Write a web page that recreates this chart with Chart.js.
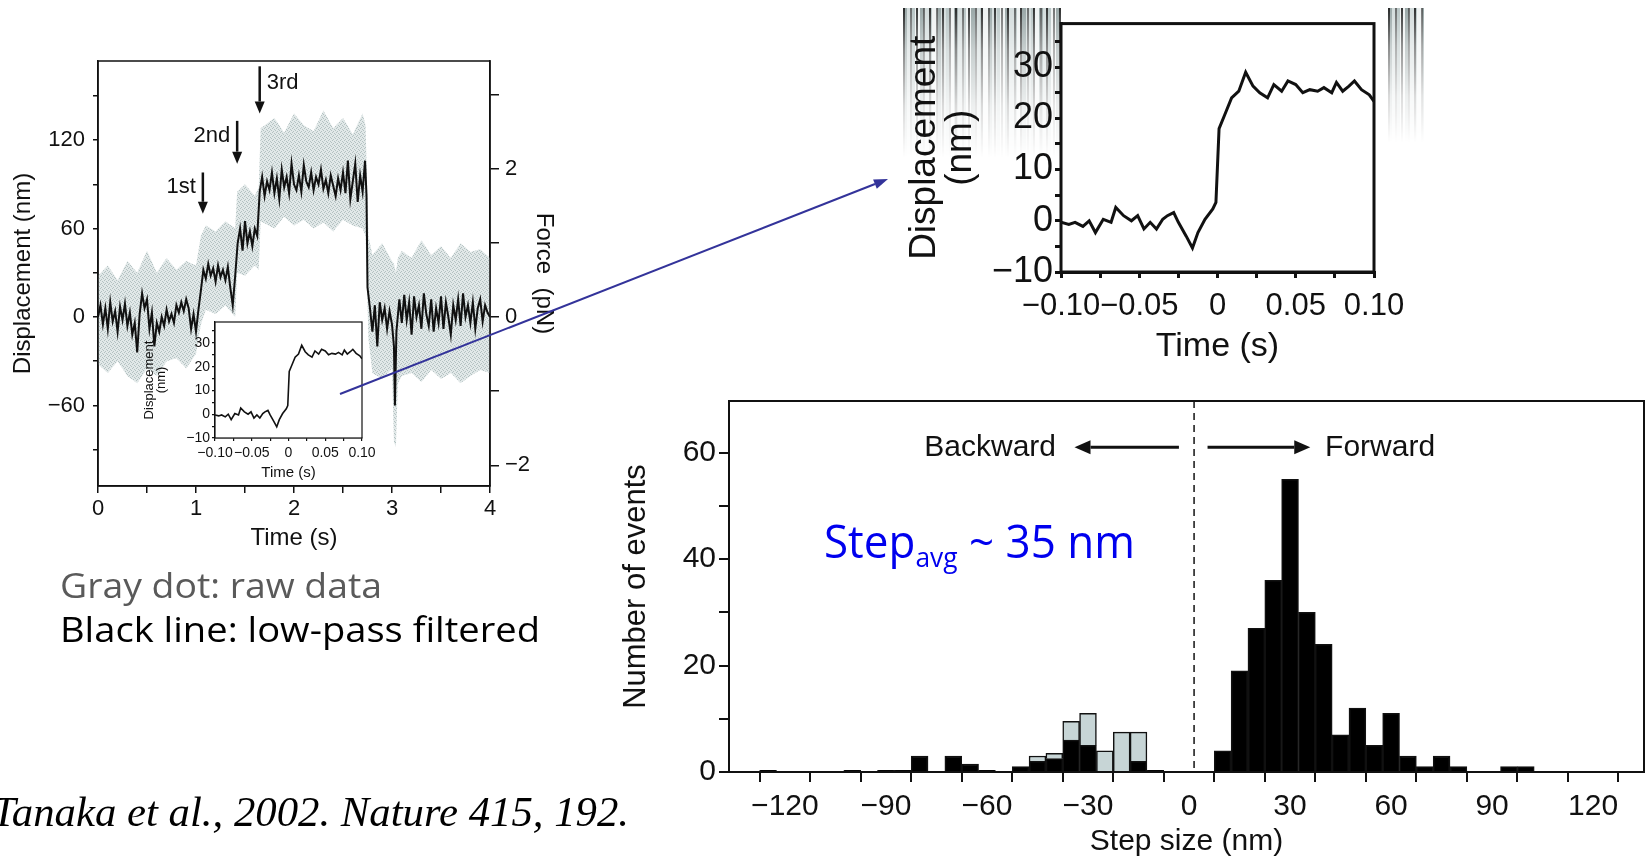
<!DOCTYPE html>
<html><head><meta charset="utf-8"><title>Kinesin stepping (Tanaka et al., 2002)</title>
<script src="https://cdn.jsdelivr.net/npm/chart.js@4.4.1/dist/chart.umd.min.js"></script>
<style>
html,body{margin:0;padding:0;background:#fff;}
body{width:1651px;height:858px;position:relative;overflow:hidden;}
canvas{position:absolute;}
.txt{position:absolute;white-space:nowrap;transform-origin:0 50%;}
.txt sub{font-size:0.6em;vertical-align:-0.32em;line-height:0;}
.streak{position:absolute;
  background:
    repeating-linear-gradient(90deg,rgba(20,20,20,.85) 0px,rgba(20,20,20,.85) 2px,rgba(0,0,0,0) 2px,rgba(0,0,0,0) 7px,rgba(60,60,60,.7) 7px,rgba(60,60,60,.7) 9px,rgba(0,0,0,0) 9px,rgba(0,0,0,0) 13px),
    repeating-linear-gradient(90deg,#9aa8a8 0px,#9aa8a8 4px,#d3dcdc 4px,#d3dcdc 9px,#b8c5c5 9px,#b8c5c5 12px,#eef2f2 12px,#eef2f2 17px);
  -webkit-mask-image:linear-gradient(to bottom,#000 0%,rgba(0,0,0,.55) 28%,rgba(0,0,0,.18) 65%,rgba(0,0,0,0) 100%);
  mask-image:linear-gradient(to bottom,#000 0%,rgba(0,0,0,.55) 28%,rgba(0,0,0,.18) 65%,rgba(0,0,0,0) 100%);}
</style></head><body>
<div class="streak" style="left:903px;top:8px;width:158px;height:150px;"></div>
<div class="streak" style="left:1388px;top:8px;width:36px;height:135px;"></div>
<canvas id="cMain" width="580" height="560" style="left:0;top:0"></canvas>
<canvas id="cInset" width="240" height="185" style="left:140px;top:300px"></canvas>
<canvas id="cZoom" width="560" height="380" style="left:880px;top:0"></canvas>
<canvas id="cHist" width="1051" height="478" style="left:600px;top:380px"></canvas>
<svg width="1651" height="858" style="position:absolute;left:0;top:0;pointer-events:none">
  <line x1="340" y1="394" x2="875" y2="184" stroke="#33339a" stroke-width="2"/>
  <polygon points="888,179 876.8,188.8 873.1,179.5" fill="#33339a"/>
</svg>
<div class="txt" style="left:60px;top:567px;font:35px/1 'Open Sans',sans-serif;color:#5a5a5a" data-w="322" data-base="598">Gray dot: raw data</div>
<div class="txt" style="left:60px;top:612px;font:35px/1 'Open Sans',sans-serif;color:#000" data-w="480" data-base="642">Black line: low-pass filtered</div>
<div class="txt" style="left:-8px;top:797px;font:italic 43px/1 'Liberation Serif','Times New Roman',serif;color:#000" data-w="637" data-base="826">Tanaka et al., 2002. Nature 415, 192.</div>
<div class="txt" style="left:824px;top:517px;font:46px/1 'Open Sans',sans-serif;color:#0000ee" data-w="311" data-base="558">Step<sub>avg</sub> ~ 35 nm</div>
<script>
// ---------------- data ----------------
const traceTime = [0,0.025,0.05,0.075,0.1,0.125,0.15,0.175,0.2,0.225,0.25,0.275,0.3,0.325,0.35,0.375,0.4,0.425,0.45,0.475,0.5,0.525,0.55,0.575,0.6,0.625,0.65,0.675,0.7,0.725,0.75,0.775,0.8,0.825,0.85,0.875,0.9,0.925,0.95,0.975,1.0,1.025,1.05,1.075,1.1,1.125,1.15,1.175,1.2,1.225,1.25,1.275,1.3,1.325,1.35,1.375,1.4,1.425,1.45,1.475,1.5,1.525,1.55,1.575,1.6,1.625,1.65,1.675,1.7,1.725,1.75,1.775,1.8,1.825,1.85,1.875,1.9,1.925,1.95,1.975,2.0,2.025,2.05,2.075,2.1,2.125,2.15,2.175,2.2,2.225,2.25,2.275,2.3,2.325,2.35,2.375,2.4,2.425,2.45,2.475,2.5,2.525,2.55,2.575,2.6,2.625,2.65,2.675,2.7,2.725,2.74,2.75,2.775,2.8,2.825,2.85,2.875,2.9,2.925,2.95,2.975,3.0,3.02,3.03,3.045,3.075,3.1,3.125,3.15,3.175,3.2,3.225,3.25,3.275,3.3,3.325,3.35,3.375,3.4,3.425,3.45,3.475,3.5,3.525,3.55,3.575,3.6,3.625,3.65,3.675,3.7,3.725,3.75,3.775,3.8,3.825,3.85,3.875,3.9,3.925,3.95,3.975,4.0];
const traceDisp = [0,8,-5,6,-8,10,-3,4,-10,7,-2,9,-6,3,-12,-4,-24,2,16,6,12,-8,3,-20,-4,-10,0,-6,5,-3,2,-4,8,3,10,4,12,6,-8,2,-10,5,18,32,26,36,28,33,24,35,27,32,25,34,20,8,28,50,60,45,65,50,58,48,60,55,85,95,82,92,86,98,84,94,80,100,88,95,84,104,90,86,96,85,103,92,88,98,86,95,90,100,87,93,84,96,89,82,94,86,98,84,106,80,92,104,78,96,85,106,82,20,6,-10,8,-20,10,-2,6,-8,4,-5,-20,-60,-10,12,-4,15,-2,10,-12,14,0,8,-8,16,2,-6,12,-10,6,-4,14,-8,10,0,-12,8,-2,12,-6,16,0,8,-4,10,-8,6,12,-3,8,3,0];
const bandTime  = [0,0.1,0.2,0.3,0.4,0.5,0.6,0.7,0.8,0.9,1.0,1.05,1.1,1.2,1.3,1.4,1.42,1.5,1.6,1.64,1.66,1.8,1.9,2.0,2.1,2.2,2.3,2.4,2.5,2.6,2.7,2.73,2.76,2.8,2.9,3.0,3.02,3.04,3.06,3.1,3.2,3.3,3.4,3.5,3.6,3.7,3.8,3.9,4.0];
const bandUpper = [28,35,25,38,30,45,30,40,32,38,35,55,62,58,65,60,85,90,82,88,128,135,125,138,130,126,140,128,135,124,138,130,55,42,50,38,36,30,40,45,40,52,42,48,40,50,44,46,40];
const bandLower = [-32,-38,-30,-40,-45,-35,-40,-30,-28,-35,-25,-5,5,2,8,0,30,28,35,32,65,60,68,62,66,60,64,58,66,62,60,55,-15,-38,-42,-35,-85,-88,-45,-40,-38,-44,-36,-42,-38,-45,-40,-36,-38];
const insetTime = [-0.1,-0.095,-0.091,-0.086,-0.082,-0.078,-0.073,-0.068,-0.065,-0.06,-0.055,-0.051,-0.047,-0.043,-0.039,-0.035,-0.032,-0.028,-0.025,-0.02,-0.016,-0.0125,-0.008,-0.003,-0.001,0.001,0.0045,0.009,0.0136,0.018,0.0227,0.027,0.032,0.036,0.041,0.045,0.05,0.0545,0.059,0.064,0.068,0.073,0.076,0.08,0.084,0.0875,0.092,0.097,0.1];
const insetDisp = [-0.3,-0.7,-0.3,-1.1,0,-2.3,0.3,-0.3,2.6,1.0,0,1.0,-1.6,-0.3,-1.6,0.3,1.0,1.6,-0.3,-3.0,-5.3,-2.3,0.3,2.3,3.6,18,20.6,24,25.3,29,26.3,25,24,26.6,25.3,27.3,26.6,25,25.6,25.3,26,25,27,25.3,26.3,27.3,25.6,24.6,23.3];
const binCenters  = [-125,-120,-115,-110,-105,-100,-95,-90,-85,-80,-75,-70,-65,-60,-55,-50,-45,-40,-35,-30,-25,-20,-15,-10,-5,0,5,10,15,20,25,30,35,40,45,50,55,60,65,70,75,80,85,90,95,100];
const blackCounts = [0.3,0,0,0,0,0.3,0,0.3,0.3,3,0,3,1.5,0.3,0,1,2,2.5,6,5,0,0,2,0.3,0,0,0,4,19,27,36,55,30,24,7,12,5,11,3,1,3,1,0,0,1,1];
const grayCounts  = [null,null,null,null,null,null,null,null,null,null,null,null,null,null,null,null,1,1,3.5,6,4,7.5,5.5,null,null,null,null,null,null,null,null,null,null,null,null,null,null,null,null,null,null,null,null,null,null,null];
// tick values and labels
const mainXTicks = [0,0.5,1,1.5,2,2.5,3,3.5,4], mainXLabels = [0,1,2,3,4];
const dispTicks = [-90,-60,-30,0,30,60,90,120,150], dispLabels = [-60,0,60,120];
const forceTicks = [-2,-1,0,1,2,3], forceLabels = [-2,0,2];
const insetXTicks = [-0.1,-0.075,-0.05,-0.025,0,0.025,0.05,0.075,0.1], insetXLabels = [-0.1,-0.05,0,0.05,0.1];
const insetYTicks = [-10,-5,0,5,10,15,20,25,30,35], insetYLabels = [-10,0,10,20,30];
const stepTicks = [-120,-105,-90,-75,-60,-45,-30,-15,0,15,30,45,60,75,90,105,120], stepLabels = [-120,-90,-60,-30,0,30,60,90,120];
const countTicks = [0,10,20,30,40,50,60], countLabels = [0,20,40,60];
// annotations
const stepMarkers = [
  {label:'1st', t:1.07, top:98, bottom:70, side:'left'},
  {label:'2nd', t:1.42, top:133, bottom:104, side:'left'},
  {label:'3rd', t:1.65, top:170, bottom:138, side:'right'}
];
const dividerX = 1.5;
const directionY = 61;
const directionNotes = [
  {text:'Backward', textX:-39.5, align:'right', from:-3, to:-34},
  {text:'Forward', textX:40.4, align:'left', from:5.5, to:36}
];

// ---------------- helpers ----------------
const FONT = "'Liberation Sans', Arial, Helvetica, sans-serif";
const INK = '#111';
const fmtInt = v => (v < 0 ? '\u2212' : '') + Math.abs(Math.round(v));
const fmt2 = v => Math.abs(v) < 1e-9 ? '0' : (v < 0 ? '\u2212' : '') + Math.abs(v).toFixed(2);

function axis(o){
  const vertical = o.pos === 'left' || o.pos === 'right';
  return {
    type:'linear', position:o.pos, min:o.min, max:o.max, offset:false, stacked:!!o.stacked,
    afterBuildTicks: s => { s.ticks = o.ticks.map(v => ({value:v})); },
    afterFit: s => { if (vertical) s.width = o.size; else s.height = o.size; },
    ticks:{autoSkip:false, maxRotation:0, minRotation:0, padding:o.tickPad, color:INK, font:o.font,
      callback: v => o.labels.some(a => Math.abs(a - v) < 1e-9) ? o.fmt(v) : ''},
    grid:{display:true, drawOnChartArea:false, drawTicks:true, tickLength:o.tickLen, tickWidth:o.lw, tickColor:INK, color:INK, lineWidth:o.lw},
    border:{display:true, color:INK, width:o.lw},
    title:{display:!!o.title, text:o.title, color:INK, font:o.titleFont, padding:o.titlePad}
  };
}
function frame(lw, fillWhite){
  return {
    id:'frame'+lw,
    beforeDatasetsDraw(chart){ if(!fillWhite) return; const a = chart.chartArea, c = chart.ctx; c.save(); c.fillStyle='#fff'; c.fillRect(a.left,a.top,a.right-a.left,a.bottom-a.top); c.restore(); },
    afterDraw(chart){ const a = chart.chartArea, c = chart.ctx; c.save(); c.strokeStyle=INK; c.lineWidth=lw; c.strokeRect(a.left,a.top,a.right-a.left,a.bottom-a.top); c.restore(); }
  };
}
function arrow(c, x1, y1, x2, y2, lw, head, half){
  const dx = x2-x1, dy = y2-y1, L = Math.hypot(dx,dy), ux = dx/L, uy = dy/L;
  const bx = x2-ux*head, by = y2-uy*head;
  c.lineWidth = lw; c.beginPath(); c.moveTo(x1,y1); c.lineTo(bx,by); c.stroke();
  c.beginPath(); c.moveTo(x2,y2); c.lineTo(bx-uy*half, by+ux*half); c.lineTo(bx+uy*half, by-ux*half); c.closePath(); c.fill();
}
function dotPattern(){
  const cv = document.createElement('canvas'); cv.width = cv.height = 4;
  const g = cv.getContext('2d'); g.fillStyle = '#e1e8e8'; g.fillRect(0,0,4,4);
  g.fillStyle = '#b3c1c1'; [[0,0],[2,1],[1,3],[3,2]].forEach(p => g.fillRect(p[0],p[1],1,1));
  return g.createPattern(cv,'repeat');
}
const common = {responsive:false, animation:false, events:[], plugins:{legend:{display:false}, tooltip:{enabled:false}}};

// ---------------- main trace ----------------
const markerPlugin = {
  id:'markers',
  afterDraw(chart){
    const c = chart.ctx, x = chart.scales.x, y = chart.scales.y;
    c.save(); c.fillStyle = INK; c.strokeStyle = INK; c.font = '22px ' + FONT; c.textBaseline = 'middle';
    stepMarkers.forEach(m => {
      const px = x.getPixelForValue(m.t), pt = y.getPixelForValue(m.top), pb = y.getPixelForValue(m.bottom);
      arrow(c, px, pt, px, pb, 2.5, 12, 5);
      const ty = y.getPixelForValue(m.top - 0.35*(m.top - m.bottom));
      c.textAlign = m.side === 'left' ? 'right' : 'left';
      c.fillText(m.label, m.side === 'left' ? px - 7 : px + 7, ty);
    });
    c.restore();
  }
};
new Chart(document.getElementById('cMain'), {
  type:'line',
  data:{datasets:[
    {data:traceTime.map((t,i)=>({x:t,y:traceDisp[i]})), borderColor:INK, borderWidth:2, pointRadius:0, tension:0, fill:false, order:0},
    {data:bandTime.map((t,i)=>({x:t,y:bandUpper[i]})), borderWidth:0, borderColor:'rgba(0,0,0,0)', pointRadius:0, fill:'+1', backgroundColor:dotPattern(), order:1},
    {data:bandTime.map((t,i)=>({x:t,y:bandLower[i]})), borderWidth:0, borderColor:'rgba(0,0,0,0)', pointRadius:0, fill:false, order:2}
  ]},
  options:Object.assign({}, common, {
    layout:{padding:{top:61,left:0,right:0,bottom:0}},
    scales:{
      x:axis({pos:'bottom', min:0, max:4, ticks:mainXTicks, labels:mainXLabels, fmt:fmtInt, font:{family:FONT,size:22}, tickLen:7, tickPad:3, size:74, lw:1.5,
              title:'Time (s)', titleFont:{family:FONT,size:24}, titlePad:{top:0,bottom:7}}),
      y:axis({pos:'left', min:-114.6, max:173.6, ticks:dispTicks, labels:dispLabels, fmt:fmtInt, font:{family:FONT,size:22}, tickLen:5, tickPad:8, size:98, lw:1.5,
              title:'Displacement (nm)', titleFont:{family:FONT,size:24}, titlePad:{top:9,bottom:0}}),
      y2:axis({pos:'right', min:-2.28, max:3.46, ticks:forceTicks, labels:forceLabels, fmt:fmtInt, font:{family:FONT,size:22}, tickLen:9, tickPad:6, size:90, lw:1.5,
              title:'Force  (pN)', titleFont:{family:FONT,size:24}, titlePad:{top:22,bottom:0}})
    }
  }),
  plugins:[frame(1.5,false), markerPlugin]
});

// ---------------- inset (small) ----------------
const insetPoints = () => insetTime.map((t,i)=>({x:t,y:insetDisp[i]}));
new Chart(document.getElementById('cInset'), {
  type:'line',
  data:{datasets:[{data:insetPoints(), borderColor:INK, borderWidth:1.6, pointRadius:0, tension:0, fill:false}]},
  options:Object.assign({}, common, {
    layout:{padding:{top:22,left:0,right:18,bottom:0}},
    scales:{
      x:axis({pos:'bottom', min:-0.1, max:0.1, ticks:insetXTicks, labels:insetXLabels, fmt:fmt2, font:{family:FONT,size:14}, tickLen:3, tickPad:4, size:47, lw:1.2,
              title:'Time (s)', titleFont:{family:FONT,size:15}, titlePad:{top:0,bottom:3}}),
      y:axis({pos:'left', min:-10, max:38.8, ticks:insetYTicks, labels:insetYLabels, fmt:fmtInt, font:{family:FONT,size:14}, tickLen:3, tickPad:2, size:75, lw:1.2,
              title:['Displacement','(nm)'], titleFont:{family:FONT,size:13,lineHeight:0.95}, titlePad:{top:3,bottom:0}})
    }
  }),
  plugins:[frame(1.2,true)]
});

// ---------------- enlarged inset (top right) ----------------
new Chart(document.getElementById('cZoom'), {
  type:'line',
  data:{datasets:[{data:insetPoints(), borderColor:INK, borderWidth:3, pointRadius:0, tension:0, fill:false}]},
  options:Object.assign({}, common, {
    layout:{padding:{top:21,left:0,right:66,bottom:0}},
    scales:{
      x:axis({pos:'bottom', min:-0.1, max:0.1, ticks:insetXTicks, labels:insetXLabels, fmt:fmt2, font:{family:FONT,size:31}, tickLen:6, tickPad:10, size:108, lw:3,
              title:'Time (s)', titleFont:{family:FONT,size:34,lineHeight:1}, titlePad:{top:0,bottom:16}}),
      y:axis({pos:'left', min:-10, max:38.5, ticks:insetYTicks, labels:insetYLabels, fmt:fmtInt, font:{family:FONT,size:36}, tickLen:6, tickPad:2, size:181, lw:3,
              title:['Displacement','(nm)'], titleFont:{family:FONT,size:37,lineHeight:0.97}, titlePad:{top:27,bottom:0}})
    }
  }),
  plugins:[frame(3,true)]
});

// ---------------- step-size histogram ----------------
const histPlugin = {
  id:'histNotes',
  afterDatasetsDraw(chart){
    const c = chart.ctx, a = chart.chartArea, x = chart.scales.x, y = chart.scales.y;
    c.save();
    const px = x.getPixelForValue(dividerX);
    c.strokeStyle = '#222'; c.lineWidth = 1.6; c.setLineDash([7,5]);
    c.beginPath(); c.moveTo(px, a.top); c.lineTo(px, a.bottom); c.stroke();
    c.setLineDash([]);
    const py = y.getPixelForValue(directionY);
    c.fillStyle = INK; c.strokeStyle = INK; c.font = '30px ' + FONT; c.textBaseline = 'middle';
    directionNotes.forEach(n => {
      c.textAlign = n.align;
      c.fillText(n.text, x.getPixelForValue(n.textX), py);
      arrow(c, x.getPixelForValue(n.from), py, x.getPixelForValue(n.to), py, 3, 16, 7);
    });
    c.restore();
  }
};
new Chart(document.getElementById('cHist'), {
  type:'bar',
  data:{datasets:[
    {data:binCenters.map((b,i)=>({x:b,y:blackCounts[i]})), backgroundColor:'#000', borderColor:INK, borderWidth:1.5, barPercentage:1, categoryPercentage:1},
    {data:binCenters.map((b,i)=>({x:b,y:grayCounts[i]})), backgroundColor:'#c7d5d6', borderColor:INK, borderWidth:1.5, barPercentage:1, categoryPercentage:1}
  ]},
  options:Object.assign({}, common, {
    layout:{padding:{top:19,left:0,right:7,bottom:0}},
    scales:{
      x:axis({pos:'bottom', min:-136.6, max:135.1, ticks:stepTicks, labels:stepLabels, fmt:fmtInt, font:{family:FONT,size:30}, tickLen:10, tickPad:7, size:86, lw:2, stacked:true,
              title:'Step size (nm)', titleFont:{family:FONT,size:30,lineHeight:1}, titlePad:{top:0,bottom:1}}),
      y:axis({pos:'left', min:0, max:69.7, ticks:countTicks, labels:countLabels, fmt:fmtInt, font:{family:FONT,size:30}, tickLen:10, tickPad:3, size:129, lw:2, stacked:true,
              title:'Number of events', titleFont:{family:FONT,size:31,lineHeight:1}, titlePad:{top:21,bottom:0}})
    }
  }),
  plugins:[frame(2,false), histPlugin]
});

// place free text by its baseline, then fit its width to the reference
document.querySelectorAll('.txt').forEach(el => {
  if (el.dataset.base) {
    const probe = document.createElement('span');
    probe.style.cssText = 'display:inline-block;width:0;height:0;vertical-align:baseline';
    el.appendChild(probe);
    const off = probe.getBoundingClientRect().top - el.getBoundingClientRect().top;
    el.removeChild(probe);
    el.style.top = (parseFloat(el.dataset.base) - off) + 'px';
  }
  if (el.dataset.w) {
    const w = el.getBoundingClientRect().width;
    el.style.transform = 'scaleX(' + (parseFloat(el.dataset.w) / w).toFixed(4) + ')';
  }
});
</script>
</body></html>
